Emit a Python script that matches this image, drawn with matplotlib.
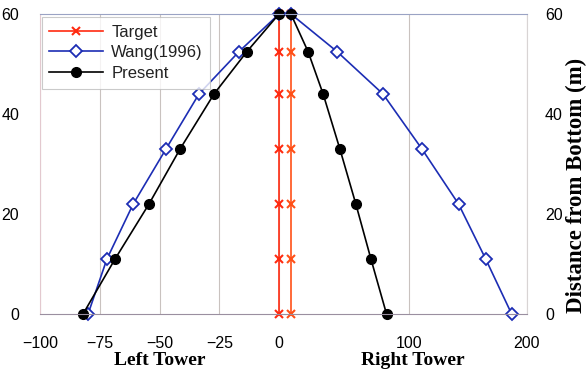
import numpy as np
import matplotlib
matplotlib.use("Agg")
import matplotlib.pyplot as plt

# heights along the tower (m)
heights = [0, 11, 22, 33, 44, 52.5, 60]

# left tower horizontal positions
target_left = [0, 0, 0, 0, 0, 0, 0]
wang_left = [-79.9, -72.0, -61.0, -47.3, -33.5, -16.7, 0]
present_left = [-82.0, -68.6, -54.4, -41.4, -27.2, -13.4, 0]

# right tower horizontal positions
target_right = [0, 0, 0, 0, 0, 0, 0]
wang_right = [187, 165, 142, 111, 78, 39, 0]
present_right = [81, 67.8, 55, 41.5, 27.3, 14.5, 0]

left_ticks = [-100, -75, -50, -25, 0]
right_ticks = [100, 200]
y_ticks = [0, 20, 40, 60]

red = "#ff2a10"
blue = "#1c2db4"
grid_c = "#c9c2bf"

plt.rcParams['font.family'] = ['Liberation Sans', 'DejaVu Sans']

fig = plt.figure(figsize=(5.88, 3.71), dpi=100)
axl = fig.add_axes([40 / 588, 57 / 371, 245 / 588, 300 / 371])
axr = fig.add_axes([285 / 588, 57 / 371, 242 / 588, 300 / 371], sharey=axl)

for ax in (axl, axr):
    ax.set_ylim(0, 60)
    ax.set_yticks(y_ticks)
    for s in ax.spines.values():
        s.set_linewidth(0.8)
    ax.spines["top"].set_color("#9aa3c4")
    ax.spines["bottom"].set_color("#9a8fa0")
    ax.spines["left"].set_color("#e3c9cf")
    ax.spines["right"].set_color("#d8d4d4")
    ax.tick_params(axis="x", length=0, labelsize=11.5, pad=16)
    ax.tick_params(axis="y", length=0, labelsize=11.5)
    ax.xaxis.grid(True, color=grid_c, lw=0.8)

axl.spines["right"].set_visible(False)
axr.spines["left"].set_visible(False)

# left tower
axl.set_xlim(-100, 2.5)
axl.set_xticks(left_ticks)
axl.tick_params(axis="y", pad=15)
lt, = axl.plot(target_left, heights, color=red, lw=1.2, marker="x", ms=6, mew=1.5,
               label="Target")
lw_, = axl.plot(wang_left, heights, color=blue, lw=1.2, marker="D", ms=6, mfc="white",
                mec=blue, mew=1.3, label="Wang(1996)")
lp, = axl.plot(present_left, heights, color="black", lw=1.2, marker="o", ms=7,
               label="Present")
axl.set_xlabel("Left Tower", family="Liberation Serif", fontweight="bold",
               fontsize=14)
axl.xaxis.set_label_coords(0.49, -0.128)

# right tower
axr.set_xlim(-5, 200)
axr.set_xticks(right_ticks)
axr.yaxis.tick_right()
axr.tick_params(axis="y", labelright=True, labelleft=False, pad=13)
axr.plot(target_right, heights, color="#ff5018", lw=1.2, marker="x", ms=6, mew=1.5)
axr.plot(wang_right, heights, color=blue, lw=1.2, marker="D", ms=6, mfc="white",
         mec=blue, mew=1.3)
axr.plot(present_right, heights, color="black", lw=1.2, marker="o", ms=7)
axr.set_xlabel("Right Tower", family="Liberation Serif", fontweight="bold",
               fontsize=14)
axr.xaxis.set_label_coords(0.53, -0.128)

for ax in (axl, axr):
    for ln in ax.lines:
        ln.set_clip_on(False)

fig.text(576 / 588, 1 - 313 / 371, "Distance from Bottom (m)", rotation=90,
         ha="center", va="bottom", family="Liberation Serif", fontweight="bold",
         fontsize=16.5)

leg = axl.legend(handles=[lt, lw_, lp], loc="upper left", bbox_to_anchor=(0.008, 0.99),
                 fontsize=12, frameon=True, fancybox=False, edgecolor="#bdbdbd",
                 handlelength=3.2, labelspacing=0.35, borderpad=0.45, handletextpad=0.5,
                 borderaxespad=0.0)
leg.get_frame().set_linewidth(0.8)
for t in leg.get_texts():
    t.set_color("#222222")

fig.savefig("out.png", dpi=100)
